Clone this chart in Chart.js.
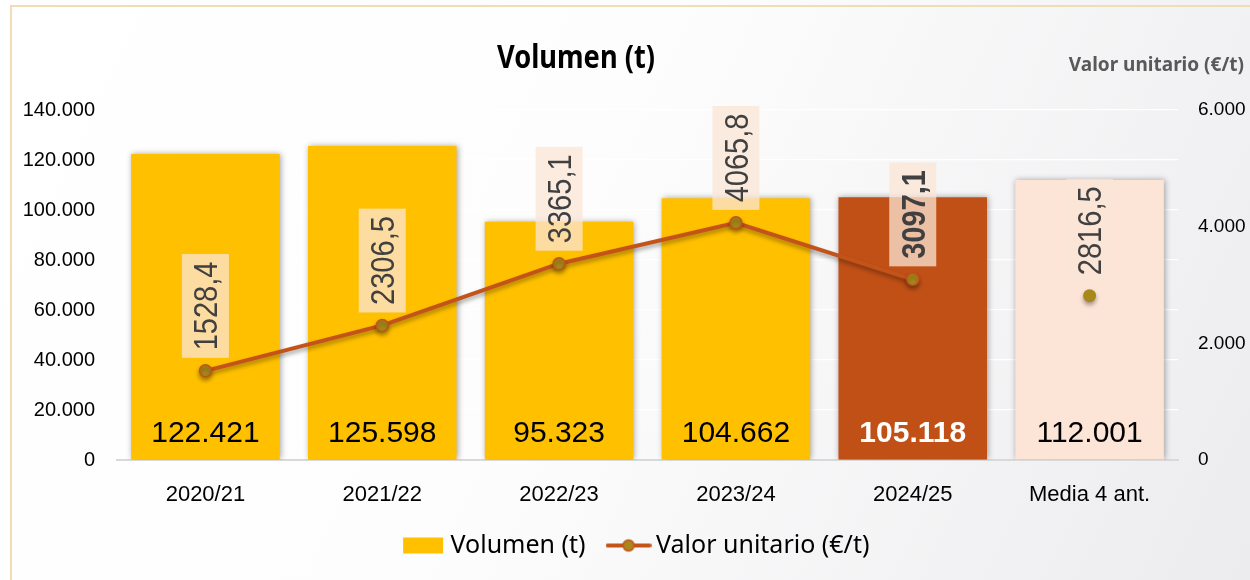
<!DOCTYPE html>
<html>
<head>
<meta charset="utf-8">
<script src="https://cdn.jsdelivr.net/npm/chart.js@4/dist/chart.umd.min.js"></script>
<style>
  html, body { margin: 0; padding: 0; background: #fff; }
  #wrap { width: 1250px; height: 580px; }
</style>
</head>
<body>
<div id="wrap"><canvas id="volChart" width="1250" height="580"></canvas></div>
<script>
// data
var categories = ['2020/21', '2021/22', '2022/23', '2023/24', '2024/25', 'Media 4 ant.'];
var volumen = [122421, 125598, 95323, 104662, 105118, 112001];
var valorUnitario = [1528.4, 2306.5, 3365.1, 4065.8, 3097.1, 2816.5];
var volumenTicks = [0, 20000, 40000, 60000, 80000, 100000, 120000, 140000];
var valorTicks = [0, 2000, 4000, 6000];

var barColors = ['#ffc000', '#ffc000', '#ffc000', '#ffc000', '#c05016', '#fce4d6'];
var lineColor = '#c4531a';
var pointFill = '#a8881a';

function fmtThousands(v) {
  return Number(v).toLocaleString('de-DE');
}
function fmtDecimal(v) {
  return Number(v).toLocaleString('de-DE', {minimumFractionDigits: 1, maximumFractionDigits: 1, useGrouping: false});
}

// legend icons
function legendBox() {
  var c = document.createElement('canvas');
  c.width = 46; c.height = 18;
  var g = c.getContext('2d');
  g.fillStyle = '#ffc000';
  g.fillRect(3, 1, 40, 16);
  return c;
}
function legendLine() {
  var c = document.createElement('canvas');
  c.width = 46; c.height = 16;
  var g = c.getContext('2d');
  g.strokeStyle = lineColor;
  g.lineWidth = 4;
  g.lineCap = 'round';
  g.beginPath(); g.moveTo(2, 8); g.lineTo(44, 8); g.stroke();
  g.beginPath(); g.arc(23, 8, 5.5, 0, Math.PI * 2);
  g.fillStyle = pointFill; g.fill();
  g.lineWidth = 1.5; g.strokeStyle = lineColor; g.stroke();
  return c;
}
var legendIcons = [legendBox(), legendLine()];

var backgroundPlugin = {
  id: 'background',
  beforeDraw: function(chart) {
    var ctx = chart.ctx;
    var grad = ctx.createLinearGradient(0, 0, chart.width, chart.height);
    grad.addColorStop(0, '#ffffff');
    grad.addColorStop(0.45, '#fdfdfd');
    grad.addColorStop(1, '#ececef');
    ctx.save();
    ctx.fillStyle = grad;
    ctx.fillRect(0, 0, chart.width, chart.height);
    ctx.strokeStyle = '#f2dcb6';
    ctx.lineWidth = 2;
    ctx.beginPath();
    ctx.moveTo(11, chart.height);
    ctx.lineTo(11, 6);
    ctx.lineTo(chart.width, 6);
    ctx.stroke();
    ctx.restore();
  }
};

var shadowPlugin = {
  id: 'shadows',
  beforeDatasetDraw: function(chart, args) {
    var ctx = chart.ctx;
    ctx.save();
    if (args.meta.type === 'bar') {
      ctx.shadowColor = 'rgba(0,0,0,0.35)';
      ctx.shadowBlur = 6;
      ctx.shadowOffsetX = 1;
    } else {
      ctx.shadowColor = 'rgba(0,0,0,0.35)';
      ctx.shadowBlur = 4;
      ctx.shadowOffsetY = 3;
    }
  },
  afterDatasetDraw: function(chart) {
    chart.ctx.restore();
  }
};

// draws text squeezed to a given width
function fillFitted(ctx, txt, x, y, width) {
  var w = ctx.measureText(txt).width;
  ctx.save();
  ctx.translate(x, y);
  ctx.scale(width / w, 1);
  ctx.fillText(txt, 0, 0);
  ctx.restore();
}

var labelsPlugin = {
  id: 'valueLabels',
  afterDatasetsDraw: function(chart) {
    var ctx = chart.ctx;
    var zeroY = chart.scales.y.getPixelForValue(0);

    // bar values at the foot of each bar
    chart.getDatasetMeta(0).data.forEach(function(bar, i) {
      ctx.save();
      var bold = i === 4;
      ctx.font = (bold ? 'bold ' : '') + '30px "Liberation Sans", Arial, sans-serif';
      ctx.fillStyle = bold ? '#ffffff' : '#000000';
      ctx.textAlign = 'center';
      ctx.textBaseline = 'alphabetic';
      ctx.fillText(fmtThousands(volumen[i]), bar.x, zeroY - 18);
      ctx.restore();
    });

    // rotated unit values above each point
    chart.getDatasetMeta(1).data.forEach(function(pt, i) {
      var txt = fmtDecimal(valorUnitario[i]);
      var bold = i === 4;
      var squeeze = 0.88;
      ctx.save();
      ctx.font = (bold ? 'bold ' : '') + '33px "Liberation Sans", Arial, sans-serif';
      var len = ctx.measureText(txt).width * squeeze;
      var boxLen = len + 15, boxW = 47;
      var bottom = pt.y - 13;
      ctx.fillStyle = 'rgba(251,229,214,0.75)';
      ctx.fillRect(pt.x - boxW / 2, bottom - boxLen, boxW, boxLen);
      ctx.translate(pt.x, bottom - boxLen / 2);
      ctx.rotate(-Math.PI / 2);
      ctx.scale(squeeze, 1);
      ctx.fillStyle = '#404040';
      ctx.textAlign = 'center';
      ctx.textBaseline = 'alphabetic';
      ctx.fillText(txt, 0, 11.8);
      ctx.restore();
    });
  },
  afterDraw: function(chart) {
    var ctx = chart.ctx;
    ctx.save();
    ctx.fillStyle = '#000000';
    ctx.font = 'bold 32px "Noto Sans", sans-serif';
    ctx.textAlign = 'center';
    fillFitted(ctx, 'Volumen (t)', 576, 59, 158);
    ctx.fillStyle = '#595959';
    ctx.font = 'bold 19px "Noto Sans", sans-serif';
    ctx.textAlign = 'right';
    ctx.fillText('Valor unitario (€/t)', 1244, 66);
    ctx.restore();
  }
};

var ctx = document.getElementById('volChart').getContext('2d');
var volChart = new Chart(ctx, {
  type: 'bar',
  data: {
    labels: categories,
    datasets: [{
      label: 'Volumen (t)',
      data: volumen,
      yAxisID: 'y',
      order: 2,
      backgroundColor: barColors,
      borderWidth: 0,
      categoryPercentage: 1,
      barPercentage: 0.84
    }, {
      type: 'line',
      label: 'Valor unitario (€/t)',
      data: valorUnitario,
      yAxisID: 'y1',
      order: 1,
      borderColor: lineColor,
      borderWidth: 4,
      tension: 0,
      pointRadius: function(c) { return c.dataIndex === 5 ? 6.5 : 6; },
      pointBackgroundColor: pointFill,
      pointBorderColor: function(c) { return c.dataIndex === 5 ? pointFill : lineColor; },
      pointBorderWidth: function(c) { return c.dataIndex === 5 ? 0 : 1.5; },
      segment: {
        borderColor: function(c) { return c.p1DataIndex === 5 ? 'rgba(0,0,0,0)' : lineColor; }
      }
    }]
  },
  options: {
    responsive: false,
    animation: false,
    layout: { padding: { left: 20, top: 110, right: -7.5, bottom: 15 } },
    plugins: {
      tooltip: { enabled: false },
      title: { display: false },
      legend: {
        position: 'bottom',
        maxHeight: 60,
        labels: {
          usePointStyle: true,
          pointStyleWidth: 30,
          padding: 28,
          color: '#000000',
          font: { family: '"Noto Sans", sans-serif', size: 25 },
          sort: function(a, b) { return a.datasetIndex - b.datasetIndex; },
          generateLabels: function(chart) {
            return chart.data.datasets.map(function(ds, i) {
              return {
                text: ds.label,
                datasetIndex: i,
                pointStyle: legendIcons[i],
                fillStyle: 'rgba(0,0,0,0)',
                strokeStyle: 'rgba(0,0,0,0)',
                lineWidth: 0,
                fontColor: '#000000',
                hidden: false
              };
            });
          }
        }
      }
    },
    scales: {
      x: {
        grid: { display: false, drawTicks: false },
        border: { display: true, color: '#d9d9d9', width: 2 },
        ticks: {
          color: '#000000',
          padding: 22,
          font: { family: '"Liberation Sans", Arial, sans-serif', size: 22 }
        },
        afterFit: function(s) { s.height = 45; }
      },
      y: {
        position: 'left',
        min: 0,
        max: 140000,
        afterBuildTicks: function(s) { s.ticks = volumenTicks.map(function(v) { return {value: v}; }); },
        grid: { color: '#ffffff', lineWidth: 1.2, drawTicks: false },
        border: { display: false },
        ticks: {
          color: '#000000',
          padding: 22,
          font: { family: '"Liberation Sans", Arial, sans-serif', size: 20 },
          callback: function(v) { return fmtThousands(v); }
        },
        afterFit: function(s) { s.width = 97; }
      },
      y1: {
        position: 'right',
        min: 0,
        max: 6000,
        afterBuildTicks: function(s) { s.ticks = valorTicks.map(function(v) { return {value: v}; }); },
        grid: { display: false, drawTicks: false },
        border: { display: false },
        ticks: {
          color: '#000000',
          padding: 20,
          font: { family: '"Liberation Sans", Arial, sans-serif', size: 19 },
          callback: function(v) { return fmtThousands(v); }
        },
        afterFit: function(s) { s.width = 79.5; }
      }
    }
  },
  plugins: [backgroundPlugin, shadowPlugin, labelsPlugin]
});
</script>
</body>
</html>
